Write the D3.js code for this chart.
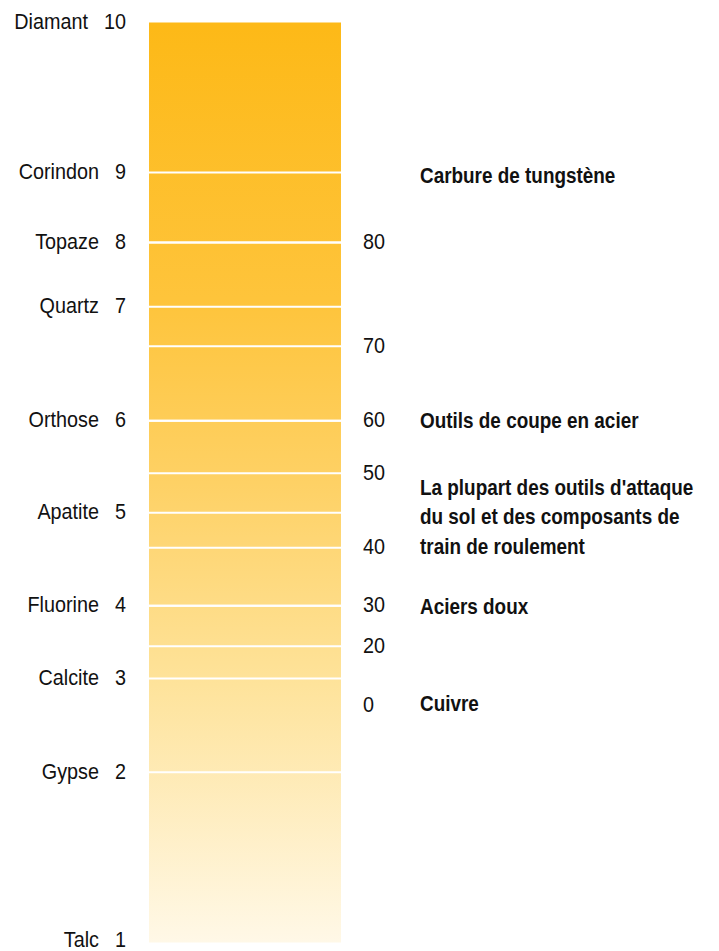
<!DOCTYPE html>
<html>
<head>
<meta charset="utf-8">
<script src="https://cdn.jsdelivr.net/npm/d3@7"></script>
<style>
  html, body { margin: 0; padding: 0; background: #fff; }
  svg text { font-family: "Liberation Sans", Arial, sans-serif; fill: #111; }
</style>
</head>
<body>
<svg id="chart" width="719" height="951"></svg>
<script>
// Mohs scale minerals, their hardness and relative height on the bar (0 = bottom, 100 = top)
const minerals = ["Talc", "Gypse", "Calcite", "Fluorine", "Apatite", "Orthose", "Quartz", "Topaze", "Corindon", "Diamant"];
const mohsValues = [1, 2, 3, 4, 5, 6, 7, 8, 9, 10];
const mohsLevel = [0, 18.5, 28.7, 36.6, 46.7, 56.7, 69.1, 76.1, 83.7, 100];

// Rockwell C values and their relative height on the same bar
const rockwellValues = [0, 20, 30, 40, 50, 60, 70, 80];
const rockwellLevel = [25.8, 32.2, 36.6, 42.9, 51.0, 56.7, 64.8, 76.1];

// Materials and their relative height
const materials = [
  "Carbure de tungstène",
  "Outils de coupe en acier",
  "La plupart des outils d'attaque|du sol et des composants de|train de roulement",
  "Aciers doux",
  "Cuivre"
];
const materialLevel = [83.3, 56.6, 49.4, 36.4, 25.9];

const svg = d3.select("#chart");
const H = 951;
const bar = { x0: 149, x1: 341, top: 22.5, bottom: 942.5 };

const y = d3.scaleLinear().domain([0, 100]).range([bar.bottom, bar.top]);
const labelY = v => Math.min(y(v), H - 11);   // keep the lowest label inside the page
const fontSize = 22;
const squeeze = 0.9;       // horizontal condensing of regular labels
const squeezeBold = 0.86;  // horizontal condensing of bold labels

// vertical gradient: cream at the base to amber at the top
const defs = svg.append("defs");
const grad = defs.append("linearGradient")
  .attr("id", "hardness")
  .attr("x1", 0).attr("y1", 1).attr("x2", 0).attr("y2", 0);
[
  [0, "#fff8e7"],
  [0.28, "#fee39b"],
  [0.5, "#fed165"],
  [0.7, "#fec43b"],
  [1, "#fdb917"]
].forEach(([o, c]) => grad.append("stop").attr("offset", o).attr("stop-color", c));

svg.append("rect")
  .attr("x", bar.x0).attr("y", y(100))
  .attr("width", bar.x1 - bar.x0)
  .attr("height", y(0) - y(100))
  .attr("fill", "url(#hardness)");

// white separators at the inner Mohs steps and Rockwell steps (except 0)
const sepLevels = mohsLevel.filter((d, i) => mohsValues[i] > 1 && mohsValues[i] < 10)
  .concat(rockwellLevel.filter((d, i) => rockwellValues[i] > 0));
svg.append("g").selectAll("line")
  .data(sepLevels)
  .join("line")
  .attr("x1", bar.x0).attr("x2", bar.x1)
  .attr("y1", d => y(d)).attr("y2", d => y(d))
  .attr("stroke", "#fff")
  .attr("stroke-width", 2);

const place = (x, yy, s) => `translate(${x},${yy}) scale(${s},1)`;

// Mohs values, right-aligned next to the bar
const valRight = 126, nameGap = 16;
const mohsG = svg.append("g").attr("font-size", fontSize);
const vals = mohsG.selectAll("text.val")
  .data(mohsValues)
  .join("text")
  .attr("class", "val")
  .attr("transform", (d, i) => place(valRight, labelY(mohsLevel[i]), squeeze))
  .attr("dy", "0.3em")
  .attr("text-anchor", "end")
  .text(d => d);

// mineral names sit a fixed gap to the left of their value
const valWidths = vals.nodes().map(n => n.getComputedTextLength() * squeeze);
mohsG.selectAll("text.name")
  .data(minerals)
  .join("text")
  .attr("class", "name")
  .attr("transform", (d, i) => place(valRight - valWidths[i] - nameGap, labelY(mohsLevel[i]), squeeze))
  .attr("dy", "0.3em")
  .attr("text-anchor", "end")
  .text(d => d);

// Rockwell C labels
svg.append("g").attr("font-size", fontSize)
  .selectAll("text")
  .data(rockwellValues)
  .join("text")
  .attr("transform", (d, i) => place(363, y(rockwellLevel[i]), squeeze))
  .attr("dy", "0.3em")
  .text(d => d);

// material labels
const lineH = 29.5;
const matG = svg.append("g").attr("font-size", fontSize).attr("font-weight", "bold");
matG.selectAll("text")
  .data(materials)
  .join("text")
  .attr("transform", (d, i) => place(420, y(materialLevel[i]), squeezeBold))
  .each(function (d) {
    const t = d3.select(this);
    d.split("|").forEach((line, k) => {
      t.append("tspan")
        .attr("x", 0)
        .attr("dy", k === 0 ? "0.3em" : lineH)
        .text(line);
    });
  });
</script>
</body>
</html>
